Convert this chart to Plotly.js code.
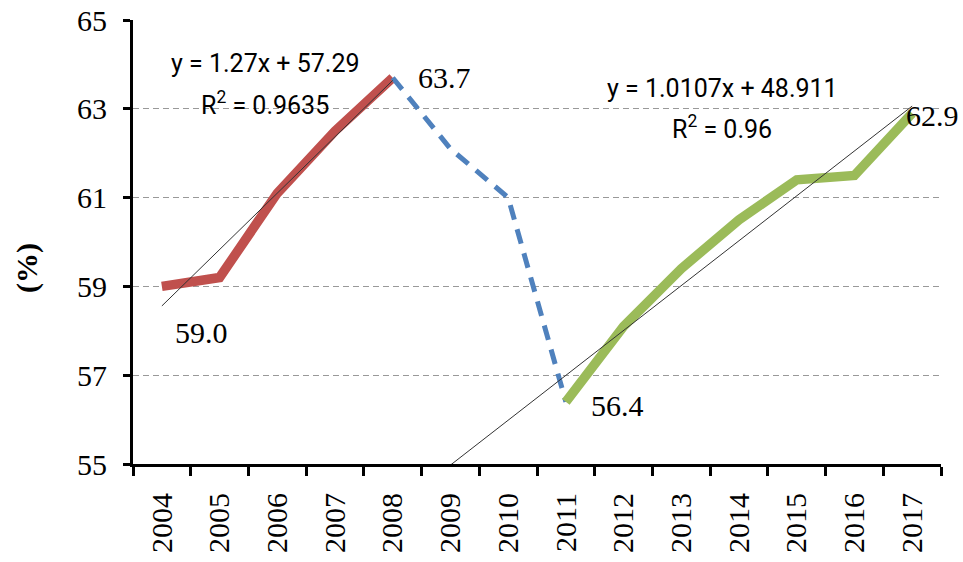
<!DOCTYPE html>
<html><head><meta charset="utf-8">
<script src="https://cdn.plot.ly/plotly-3.0.1.min.js"></script>
<style>html,body{margin:0;padding:0;background:#fff}#chart{width:963px;height:562px}</style>
</head><body><div id="chart"></div>
<script>
const years = ['2004','2005','2006','2007','2008','2009','2010','2011','2012','2013','2014','2015','2016','2017'];

const redYears = ['2004','2005','2006','2007','2008'];
const redValues = [59.0, 59.2, 61.1, 62.5, 63.7];

const blueYears = ['2008','2009','2010','2011'];
const blueValues = [63.7, 62.1, 61.0, 56.4];

const greenYears = ['2011','2012','2013','2014','2015','2016','2017'];
const greenValues = [56.4, 58.1, 59.4, 60.5, 61.4, 61.5, 62.9];

// trendline coefficients as printed on the chart (x = 1 for 2004)
const redTrendCoef = [1.27, 57.29];
const redTrendR2 = '0.9635';
const redTrendYears = ['2004','2008'];
const greenTrendCoef = [1.0107, 48.911];
const greenTrendR2 = '0.96';
const greenTrendYears = ['2009','2017'];

const labelYears = ['2004','2008','2011','2017'];
const labelValues = [59.0, 63.7, 56.4, 62.9];
const labelShiftX = [40, 52, 52, 20];
const labelShiftY = [-46, 0, -4, -2];

function trendY(coef, yrs){ return yrs.map(y => coef[0]*(years.indexOf(y)+1) + coef[1]); }

const serif = "'Liberation Serif', 'Times New Roman', serif";
const sans = "Roboto, 'Liberation Sans', sans-serif";

const traces = [
  {x: redYears, y: redValues, type:'scatter', mode:'lines', line:{color:'#C0504D', width:9.5}, hoverinfo:'skip'},
  {x: blueYears, y: blueValues, type:'scatter', mode:'lines', line:{color:'#4F81BD', width:5, dash:'15px,10px'}, hoverinfo:'skip'},
  {x: greenYears, y: greenValues, type:'scatter', mode:'lines', line:{color:'#9BBB59', width:9.5}, hoverinfo:'skip'},
  {x: redTrendYears, y: trendY(redTrendCoef, redTrendYears), type:'scatter', mode:'lines', line:{color:'#333', width:1}, hoverinfo:'skip'},
  {x: greenTrendYears, y: trendY(greenTrendCoef, greenTrendYears), type:'scatter', mode:'lines', line:{color:'#333', width:1}, hoverinfo:'skip'}
];

const annotations = labelYears.map((yr,i) => ({
  x: years.indexOf(yr), y: labelValues[i], xref:'x', yref:'y', text: labelValues[i].toFixed(1),
  showarrow:false, xshift: labelShiftX[i], yshift: labelShiftY[i],
  xanchor:'center', yanchor:'middle',
  font:{family: serif, size:30, color:'#000'}
}));

function eqNote(text, x, y){
  return {xref:'paper', yref:'paper', x:x, y:y, xanchor:'center', yanchor:'middle',
    text:text, showarrow:false, align:'center', font:{family: sans, size:25, color:'#000'}};
}
annotations.push(eqNote('y = ' + redTrendCoef[0] + 'x + ' + redTrendCoef[1], 0.163, 0.901));
annotations.push(eqNote('R<sup>2</sup> = ' + redTrendR2, 0.163, 0.813));
annotations.push(eqNote('y = ' + greenTrendCoef[0] + 'x + ' + greenTrendCoef[1], 0.729, 0.845));
annotations.push(eqNote('R<sup>2</sup> = ' + greenTrendR2, 0.729, 0.759));

annotations.push({
  xref:'paper', yref:'paper', x:-0.131, y:0.442, xanchor:'center', yanchor:'middle',
  text:'<b>(%)</b>', textangle:-90, showarrow:false,
  font:{family: serif, size:30, color:'#000'}
});

const layout = {
  width:963, height:562,
  margin:{l:133, r:22, t:20, b:98, pad:0},
  paper_bgcolor:'#fff', plot_bgcolor:'#fff',
  showlegend:false,
  xaxis:{
    type:'category', categoryorder:'array', categoryarray: years,
    range:[-0.5, 13.5], showgrid:false, zeroline:false,
    showline:true, linecolor:'#000', linewidth:3,
    ticks:'outside', tickson:'boundaries', ticklen:9, tickwidth:3, tickcolor:'#000',
    tickangle:-90, ticklabelstandoff:14,
    tickfont:{family: serif, size:30, color:'#000'}
  },
  yaxis:{
    range:[55,65], tick0:55, dtick:2, zeroline:false,
    showline:true, linecolor:'#000', linewidth:3,
    ticks:'outside', ticklen:7, tickwidth:3, tickcolor:'#000', ticklabelstandoff:10,
    showgrid:true, gridcolor:'#999', gridwidth:1, griddash:'6px,4px',
    tickfont:{family: serif, size:30, color:'#000'}
  },
  annotations: annotations
};

Plotly.newPlot('chart', traces, layout, {staticPlot:true, displayModeBar:false});
</script>
</body></html>
